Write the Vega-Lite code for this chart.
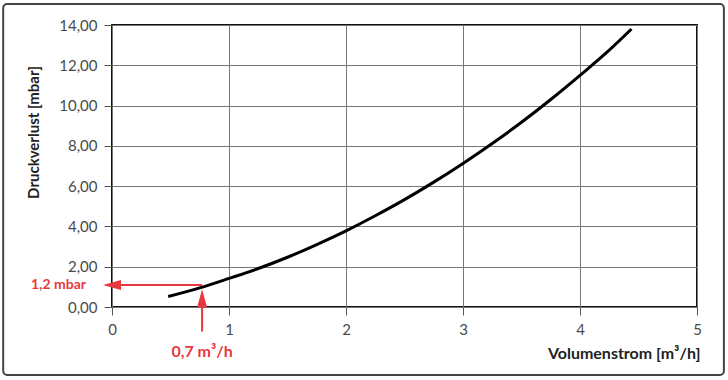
{
  "$schema": "https://vega.github.io/schema/vega-lite/v6.json",
  "autosize": "none",
  "width": 585,
  "height": 282,
  "padding": {"left": 112, "top": 25, "right": 31, "bottom": 73},
  "background": "white",
  "config": {
    "view": {"stroke": "#111", "strokeWidth": 2},
    "font": "Lato",
    "axis": {
      "labelFont": "Lato", "labelFontSize": 15, "labelColor": "#4a4a4a",
      "titleFont": "Lato", "titleFontSize": 15, "titleFontWeight": "bold", "titleColor": "#222",
      "gridColor": "#777", "gridWidth": 1, "gridOpacity": 1,
      "tickColor": "#555", "tickSize": 8, "tickWidth": 1,
      "labelFlush": false,
      "domain": false
    }
  },
  "datasets": {
    "curve": [
      {"q": 0.48, "p": 0.52},
      {"q": 0.75, "p": 0.95},
      {"q": 1.0, "p": 1.42},
      {"q": 1.25, "p": 1.91},
      {"q": 1.5, "p": 2.47},
      {"q": 1.75, "p": 3.10},
      {"q": 2.0, "p": 3.78},
      {"q": 2.25, "p": 4.53},
      {"q": 2.5, "p": 5.33},
      {"q": 2.75, "p": 6.20},
      {"q": 3.0, "p": 7.13},
      {"q": 3.25, "p": 8.12},
      {"q": 3.5, "p": 9.17},
      {"q": 3.75, "p": 10.30},
      {"q": 4.0, "p": 11.50},
      {"q": 4.25, "p": 12.75},
      {"q": 4.44, "p": 13.8}
    ],
    "point": [{"q": 0.77, "p": 1.09, "qlabel": "0,7 m³/h", "plabel": "1,2 mbar"}],
    "frame": [{"x0": -0.93, "x1": 5.23, "y0": -3.38, "y1": 15.04}]
  },
  "layer": [
    {
      "data": {"name": "curve"},
      "mark": {"type": "line", "color": "#000", "strokeWidth": 3, "interpolate": "monotone"},
      "encoding": {
        "x": {"field": "q", "type": "quantitative",
              "scale": {"domain": [0, 5], "nice": false},
              "axis": {"values": [0, 1, 2, 3, 4, 5], "format": "d", "labelPadding": 7,
                       "title": "Volumenstrom [m³/h]", "titleX": 588, "titleY": 46,
                       "titleFontSize": 16,
                       "titleAlign": "right", "titleBaseline": "middle"}},
        "y": {"field": "p", "type": "quantitative",
              "scale": {"domain": [0, 14], "nice": false},
              "axis": {"values": [0, 2, 4, 6, 8, 10, 12, 14],
                       "labelExpr": "replace(format(datum.value, '.2f'), '.', ',')",
                       "labelPadding": 7,
                       "title": "Druckverlust [mbar]", "titleX": -79, "titleY": 107,
                       "titleAngle": 270, "titleAlign": "center", "titleBaseline": "middle"}}
      }
    },
    {
      "data": {"name": "frame"},
      "mark": {"type": "rect", "fill": "transparent", "stroke": "#444", "strokeWidth": 2, "cornerRadius": 4},
      "encoding": {
        "x": {"field": "x0", "type": "quantitative"},
        "x2": {"field": "x1"},
        "y": {"field": "y0", "type": "quantitative"},
        "y2": {"field": "y1"}
      }
    },
    {
      "data": {"name": "point"},
      "mark": {"type": "rule", "color": "#e8373e", "strokeWidth": 2},
      "encoding": {
        "x": {"field": "q", "type": "quantitative"},
        "x2": {"datum": -0.04},
        "y": {"field": "p", "type": "quantitative"}
      }
    },
    {
      "data": {"name": "point"},
      "mark": {"type": "point", "shape": "M0,0L2,-0.55L2,0.55Z", "filled": true, "color": "#e8373e", "size": 324, "opacity": 1},
      "encoding": {
        "x": {"datum": -0.077, "type": "quantitative"},
        "y": {"field": "p", "type": "quantitative"}
      }
    },
    {
      "data": {"name": "point"},
      "mark": {"type": "rule", "color": "#e8373e", "strokeWidth": 2},
      "encoding": {
        "x": {"field": "q", "type": "quantitative"},
        "y": {"datum": -1.22, "type": "quantitative"},
        "y2": {"datum": 0.5}
      }
    },
    {
      "data": {"name": "point"},
      "mark": {"type": "point", "shape": "M0,0L-0.55,2L0.55,2Z", "filled": true, "color": "#e8373e", "size": 324, "opacity": 1},
      "encoding": {
        "x": {"field": "q", "type": "quantitative"},
        "y": {"datum": 0.88, "type": "quantitative"}
      }
    },
    {
      "data": {"name": "point"},
      "mark": {"type": "text", "color": "#e8373e", "font": "Lato", "fontSize": 14, "fontWeight": "bold", "align": "right", "baseline": "middle", "dx": -26},
      "encoding": {
        "x": {"datum": 0, "type": "quantitative"},
        "y": {"field": "p", "type": "quantitative"},
        "text": {"field": "plabel"}
      }
    },
    {
      "data": {"name": "point"},
      "mark": {"type": "text", "color": "#e8373e", "font": "Lato", "fontSize": 16, "fontWeight": "bold", "align": "center", "baseline": "middle", "dy": 45},
      "encoding": {
        "x": {"field": "q", "type": "quantitative"},
        "y": {"datum": 0, "type": "quantitative"},
        "text": {"field": "qlabel"}
      }
    }
  ]
}
